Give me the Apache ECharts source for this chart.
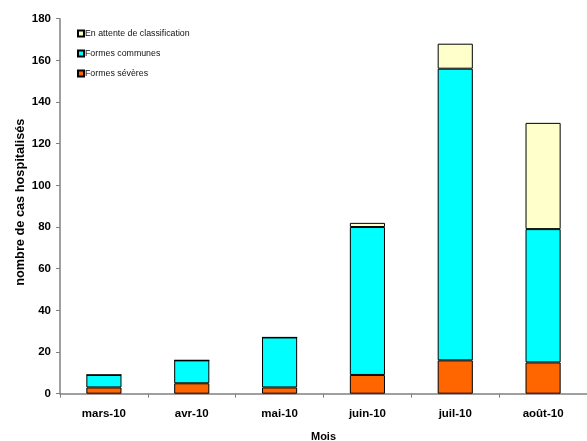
<!DOCTYPE html>
<html>
<head>
<meta charset="utf-8">
<script src="https://cdn.jsdelivr.net/npm/echarts@6/dist/echarts.min.js"></script>
<style>
  html, body { margin: 0; padding: 0; background: #fff; }
  #chart { width: 587px; height: 441px; }
</style>
</head>
<body>
<div id="chart"></div>
<script>
// Hospitalised cases per month, split by severity
const months = ['mars-10', 'avr-10', 'mai-10', 'juin-10', 'juil-10', 'août-10'];
const formesSeveres = [3, 5, 3, 9, 16, 15];
const formesCommunes = [6, 11, 24, 71, 140, 64];
const enAttente = [0, 0, 0, 2, 12, 51];
const yTicks = [0, 20, 40, 60, 80, 100, 120, 140, 160, 180];

const FONT = '"Liberation Sans", Arial, sans-serif';
const AXIS_COLOR = '#808080';

const chart = echarts.init(document.getElementById('chart'));

function barSeries(name, data, color) {
  return {
    name: name,
    type: 'bar',
    stack: 'total',
    barWidth: '40%',
    data: data,
    itemStyle: { color: color, borderColor: '#000', borderWidth: 1 }
  };
}

chart.setOption({
  animation: false,
  backgroundColor: '#fff',
  textStyle: { fontFamily: FONT },
  grid: {
    left: 60, right: 0, top: 18.7, height: 375,
    containLabel: false,
    outerBoundsMode: 'none'
  },
  legend: {
    orient: 'vertical',
    left: 77,
    top: 28.5,
    padding: 0,
    itemWidth: 6,
    itemHeight: 6,
    itemGap: 10,
    icon: 'rect',
    data: ['En attente de classification', 'Formes communes', 'Formes sévères'],
    textStyle: { fontSize: 8.8, color: '#111', fontFamily: FONT, lineHeight: 10, padding: [0, 0, 0, -4] }
  },
  xAxis: {
    type: 'category',
    data: months,
    name: 'Mois',
    nameLocation: 'middle',
    nameGap: 38,
    nameMoveOverlap: false,
    nameTextStyle: { fontSize: 11, fontWeight: 'bold', color: '#000', fontFamily: FONT, verticalAlign: 'top' },
    axisLine: { lineStyle: { color: AXIS_COLOR, width: 1.5 } },
    axisTick: { show: true, length: 4, lineStyle: { color: AXIS_COLOR } },
    axisLabel: { fontSize: 11.5, fontWeight: 'bold', color: '#000', margin: 14, fontFamily: FONT }
  },
  yAxis: {
    type: 'value',
    min: yTicks[0],
    max: yTicks[yTicks.length - 1],
    interval: yTicks[1] - yTicks[0],
    name: 'nombre de cas hospitalisés',
    nameLocation: 'middle',
    nameGap: 33,
    nameMoveOverlap: false,
    nameTextStyle: { fontSize: 12.75, fontWeight: 'bold', color: '#000', fontFamily: FONT, padding: [0, 0, 0, 8] },
    splitLine: { show: false },
    axisLine: { show: true, lineStyle: { color: AXIS_COLOR, width: 1.5 } },
    axisTick: { show: true, length: 4, lineStyle: { color: AXIS_COLOR } },
    axisLabel: { fontSize: 11.5, fontWeight: 'bold', color: '#000', margin: 9, fontFamily: FONT }
  },
  series: [
    barSeries('Formes sévères', formesSeveres, '#FF6600'),
    barSeries('Formes communes', formesCommunes, '#00FFFF'),
    barSeries('En attente de classification', enAttente, '#FFFFCC')
  ]
});
</script>
</body>
</html>
